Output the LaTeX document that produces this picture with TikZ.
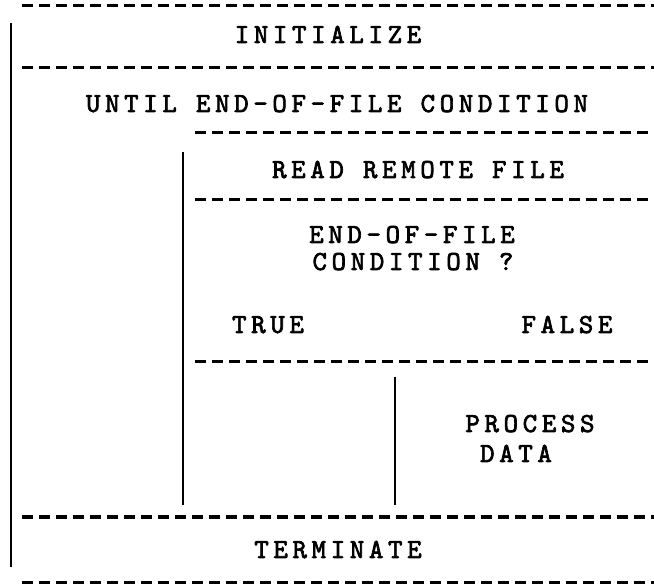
\documentclass[tikz,border=0pt]{standalone}
\usepackage{fontspec}
\newfontfamily\tw[Extension=.otf,LetterSpace=17,FakeBold=2.5]{lmmono10-regular}
\begin{document}
\begin{tikzpicture}[x=1pt,y=-1pt,
  dline/.style={line width=3pt, dash pattern=on 11pt off 6pt},
  vline/.style={line width=2.4pt},
  lbl/.style={font=\fontsize{27.5}{31}\selectfont\tw, inner sep=0pt, anchor=base}
]
\useasboundingbox (0,0) rectangle (654,585);
% coordinates
\coordinate (h1a) at (22,6);   \coordinate (h1b) at (654,6);
\coordinate (h2a) at (22,68);  \coordinate (h2b) at (654,68);
\coordinate (h3a) at (195,133); \coordinate (h3b) at (654,133);
\coordinate (h4a) at (195,200); \coordinate (h4b) at (654,200);
\coordinate (h5a) at (195,362); \coordinate (h5b) at (654,362);
\coordinate (h6a) at (22,517); \coordinate (h6b) at (654,517);
\coordinate (h7a) at (22,582); \coordinate (h7b) at (654,582);
\coordinate (v1a) at (11,23);  \coordinate (v1b) at (11,567);
\coordinate (v2a) at (183,152); \coordinate (v2b) at (183,505);
\coordinate (v3a) at (395,377); \coordinate (v3b) at (395,505);
% dashed separators
\foreach \i in {1,...,7} \draw[dline] (h\i a) -- (h\i b);
% solid verticals
\foreach \i in {1,2,3} \draw[vline] (v\i a) -- (v\i b);
% labels
\node[lbl] (init) at (328,43) {INITIALIZE};
\node[lbl] (until) at (337,112) {UNTIL END-OF-FILE CONDITION};
\node[lbl] (read) at (418,178) {READ REMOTE FILE};
\node[lbl] (eofa) at (412,243) {END-OF-FILE};
\node[lbl] (eofb) at (413,270) {CONDITION ?};
\node[lbl] (true) at (268,333) {TRUE};
\node[lbl] (false) at (567,333) {FALSE};
\node[lbl] (proca) at (530,432) {PROCESS};
\node[lbl] (procb) at (516,462) {DATA};
\node[lbl] (term) at (338,558) {TERMINATE};
\end{tikzpicture}
\end{document}
